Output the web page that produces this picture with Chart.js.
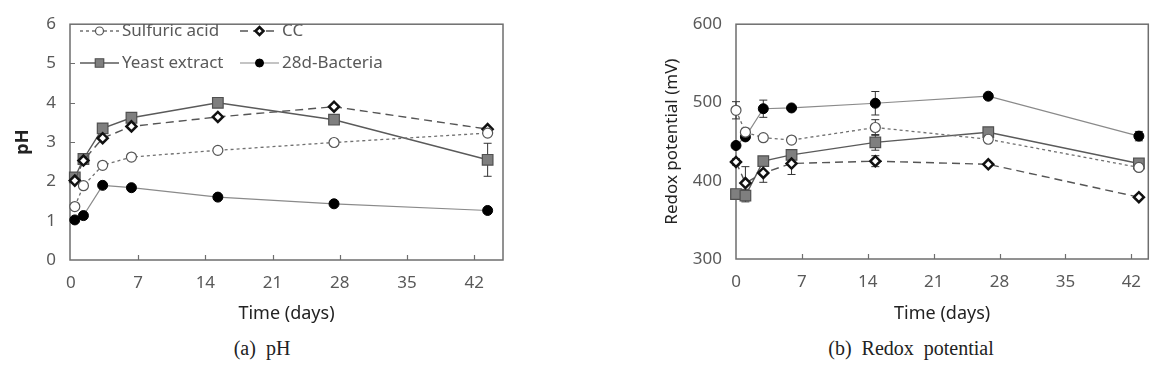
<!DOCTYPE html>
<html>
<head>
<meta charset="utf-8">
<script src="https://cdn.jsdelivr.net/npm/chart.js@4/dist/chart.umd.min.js"></script>
<style>
  body { margin: 0; background: #fff; width: 1157px; height: 369px; position: relative; overflow: hidden; }
  .box { position: absolute; top: 0; }
  .cap { position: absolute; top: 337px; font-family: 'Liberation Serif', serif; font-size: 20px; color: #222; white-space: pre; transform: translateX(-50%); }
</style>
</head>
<body>
<div class="box" style="left:0"><canvas id="ph" width="530" height="330"></canvas></div>
<div class="box" style="left:590px"><canvas id="redox" width="567" height="330"></canvas></div>
<div class="cap" style="left:262px">(a)  pH</div>
<div class="cap" style="left:911px">(b)  Redox  potential</div>
<script>
// values
const seriesNames = ['Sulfuric acid', 'CC', 'Yeast extract', '28d-Bacteria'];
const xTicks = [0, 7, 14, 21, 28, 35, 42];

const phDays = [0.4, 1.3, 3.3, 6.3, 15.3, 27.4, 43.4];
const phSulfuric = [1.36, 1.89, 2.41, 2.62, 2.79, 2.99, 3.23];
const phCC = [2.02, 2.53, 3.1, 3.4, 3.64, 3.9, 3.33];
const phYeast = [2.1, 2.57, 3.35, 3.62, 4.0, 3.57, 2.55];
const phBacteria = [1.02, 1.13, 1.9, 1.84, 1.6, 1.43, 1.26];
const phYeastErr = [0, 0, 0, 0, 0, 0, 0.42];

const redoxDays = [0, 1, 2.9, 5.9, 14.8, 26.8, 42.8];
const redoxSulfuric = [490, 462, 455, 452, 468, 453, 417];
const redoxCC = [424, 397, 410, 422, 425, 421, 379];
const redoxYeast = [383, 381, 425, 433, 449, 462, 422];
const redoxBacteria = [445, 456, 492, 493, 499, 508, 457];
const redoxSulfuricErr = [11, 5, 0, 0, 10, 0, 3];
const redoxCCErr = [4, 21, 12, 14, 7, 0, 3];
const redoxYeastErr = [0, 8, 3, 3, 10, 3, 3];
const redoxBacteriaErr = [3, 3, 11, 0, 15, 3, 6];

Chart.defaults.font.family = "'Noto Sans', sans-serif";
Chart.defaults.color = '#595959';

const pts = (days, vals) => days.map((d, i) => ({ x: d, y: vals[i] }));

// one style per series, same order as seriesNames
const styles = [
  { borderColor: '#707070', borderWidth: 1.3, borderDash: [3, 3], pointStyle: 'circle', pointRadius: 5,
    pointBackgroundColor: '#fff', pointBorderColor: '#555', pointBorderWidth: 1.2 },
  { borderColor: '#555', borderWidth: 1.4, borderDash: [8, 5], pointStyle: 'rectRot', pointRadius: 5,
    pointBackgroundColor: '#fff', pointBorderColor: '#111', pointBorderWidth: 2.5 },
  { borderColor: '#5a5a5a', borderWidth: 1.4, borderDash: [], pointStyle: 'rect', pointRadius: 7.5,
    pointBackgroundColor: '#7f7f7f', pointBorderColor: '#505050', pointBorderWidth: 1.2 },
  { borderColor: '#8a8a8a', borderWidth: 1.2, borderDash: [], pointStyle: 'circle', pointRadius: 5,
    pointBackgroundColor: '#000', pointBorderColor: '#000', pointBorderWidth: 1 }
];

const makeSets = (days, lists, errs) => lists.map((vals, i) => Object.assign({
  label: seriesNames[i],
  data: pts(days, vals),
  err: errs[i],
  fill: false,
  tension: 0,
  clip: false
}, styles[i]));

// frame, inward tick marks and error bars
const decor = {
  id: 'decor',
  beforeDatasetsDraw(chart) {
    const { ctx, chartArea: a, scales: { x, y } } = chart;
    ctx.save();
    ctx.strokeStyle = '#6e6e6e';
    ctx.lineWidth = 1.5;
    ctx.strokeRect(a.left, a.top, a.right - a.left, a.bottom - a.top);
    ctx.lineWidth = 1.2;
    ctx.beginPath();
    x.ticks.forEach(t => {
      const px = Math.round(x.getPixelForValue(t.value)) + 0.5;
      if (px <= a.left + 2) return;
      ctx.moveTo(px, a.bottom); ctx.lineTo(px, a.bottom - 5);
    });
    if (chart.options.plugins.decor.yTicks) {
      y.ticks.forEach(t => {
        const py = Math.round(y.getPixelForValue(t.value)) + 0.5;
        if (py <= a.top + 2 || py >= a.bottom - 2) return;
        ctx.moveTo(a.left, py); ctx.lineTo(a.left + 5, py);
      });
    }
    ctx.stroke();

    ctx.strokeStyle = '#333';
    ctx.lineWidth = 1;
    chart.data.datasets.forEach(ds => {
      if (!ds.err) return;
      ds.data.forEach((p, j) => {
        const e = ds.err[j];
        if (!e) return;
        const px = x.getPixelForValue(p.x);
        const top = y.getPixelForValue(p.y + e), bot = y.getPixelForValue(p.y - e);
        ctx.beginPath();
        ctx.moveTo(px, top); ctx.lineTo(px, bot);
        ctx.moveTo(px - 4, top); ctx.lineTo(px + 4, top);
        ctx.moveTo(px - 4, bot); ctx.lineTo(px + 4, bot);
        ctx.stroke();
      });
    });
    ctx.restore();
  }
};

// legend drawn like the original: line sample with marker, two columns
const sampleLegend = {
  id: 'sampleLegend',
  afterDraw(chart) {
    const { ctx } = chart;
    const spots = [[80, 31], [240, 31], [80, 63], [240, 63]];
    ctx.save();
    chart.data.datasets.forEach((ds, i) => {
      const [lx, ly] = spots[i];
      ctx.strokeStyle = ds.borderColor;
      ctx.lineWidth = ds.borderWidth;
      ctx.setLineDash(ds.borderDash);
      ctx.beginPath();
      ctx.moveTo(lx, ly); ctx.lineTo(lx + 39, ly);
      ctx.stroke();
      ctx.setLineDash([]);
      ctx.fillStyle = ds.pointBackgroundColor;
      ctx.strokeStyle = ds.pointBorderColor;
      ctx.lineWidth = ds.pointBorderWidth;
      Chart.helpers.drawPoint(ctx, { pointStyle: ds.pointStyle, radius: ds.pointRadius * 0.8,
        rotation: 0, borderWidth: ds.pointBorderWidth }, lx + 19.5, ly);
      ctx.fillStyle = '#595959';
      ctx.font = "17px 'Noto Sans'";
      ctx.textBaseline = 'middle';
      ctx.fillText(ds.label, lx + 42, ly);
    });
    ctx.restore();
  }
};

function makeOptions(o) {
  return {
    responsive: false,
    animation: false,
    layout: { padding: { left: 0, top: 13, right: o.padRight, bottom: 0 } },
    plugins: { legend: { display: false }, tooltip: { enabled: false }, decor: { yTicks: o.yTicks } },
    scales: {
      x: {
        type: 'linear', min: o.xMin, max: o.xMax,
        grid: { display: false, drawTicks: false }, border: { display: false },
        afterBuildTicks: s => { s.ticks = xTicks.map(v => ({ value: v })); },
        afterFit: s => { s.height = o.xHeight; },
        ticks: { padding: 13, font: { size: 17 }, color: '#595959' },
        title: { display: true, text: 'Time (days)', color: '#222', font: { size: 18 }, padding: { top: 0, bottom: 5 } }
      },
      y: {
        min: o.yMin, max: o.yMax,
        grid: { display: false, drawTicks: false }, border: { display: false },
        afterFit: s => { s.width = o.yWidth; },
        ticks: { stepSize: o.yStep, padding: 14, font: { size: 17 }, color: '#595959' },
        title: { display: true, text: o.yTitle, color: '#222', font: { size: o.yTitleSize, weight: o.yTitleWeight },
          padding: { top: o.yTitlePad, bottom: 0 } }
      }
    }
  };
}

new Chart(document.getElementById('ph'), {
  type: 'line',
  data: { datasets: makeSets(phDays, [phSulfuric, phCC, phYeast, phBacteria], [null, null, phYeastErr, null]) },
  options: makeOptions({ padRight: 27, xMin: -0.1, xMax: 45, xHeight: 70, yMin: 0, yMax: 6, yStep: 1, yWidth: 70,
    yTitle: 'pH', yTitleSize: 18, yTitleWeight: 'bold', yTitlePad: 12, yTicks: true }),
  plugins: [decor, sampleLegend]
});

new Chart(document.getElementById('redox'), {
  type: 'line',
  data: { datasets: makeSets(redoxDays, [redoxSulfuric, redoxCC, redoxYeast, redoxBacteria],
    [redoxSulfuricErr, redoxCCErr, redoxYeastErr, redoxBacteriaErr]) },
  options: makeOptions({ padRight: 5, xMin: 0, xMax: 43.8, xHeight: 71, yMin: 300, yMax: 600, yStep: 100, yWidth: 146,
    yTitle: 'Redox potential (mV)', yTitleSize: 17, yTitleWeight: 'normal', yTitlePad: 72, yTicks: false }),
  plugins: [decor]
});
</script>
</body>
</html>
